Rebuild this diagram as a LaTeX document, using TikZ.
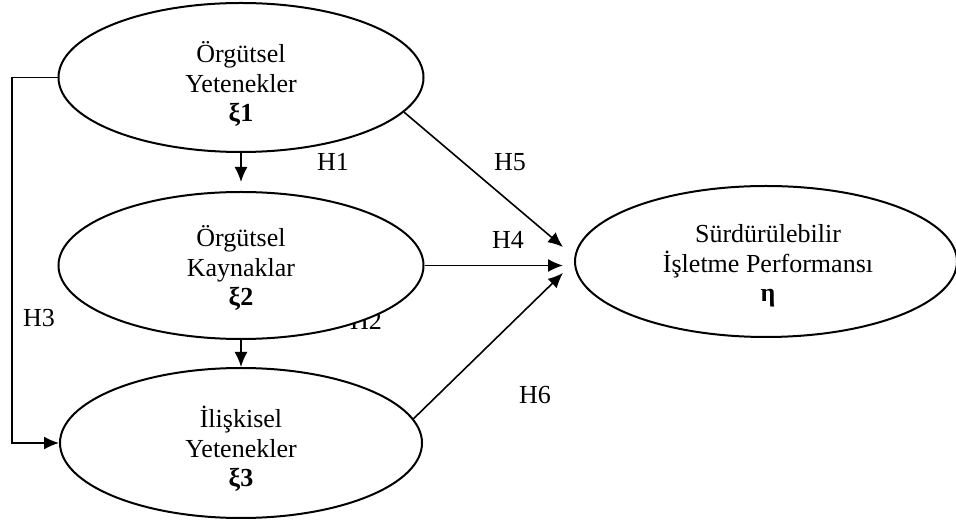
\documentclass[tikz,border=0pt]{standalone}
\usepackage{fontspec}
\setmainfont{Liberation Serif}
\usetikzlibrary{shapes.geometric}
\usetikzlibrary{arrows.meta}

\begin{document}
\begin{tikzpicture}[x=0.5pt, y=-0.5pt, >={Latex[length=7.5pt,width=6.5pt]},
    every node/.style={font=\fontsize{13}{14.8}\selectfont, inner sep=0pt},
    latent/.style={draw, ellipse, line width=1pt, fill=white},
    link/.style={->, line width=0.8pt}]
    \useasboundingbox (0,0) rectangle (956,522);
    % =========================
    % label partly hidden by the second ellipse
    \node (H2) at (366,321) {H2};

    % ========== latent variables
    \node[latent, minimum width=182.5pt, minimum height=74.5pt] (o1) at (241,77.5) {};
    \node[latent, minimum width=182.5pt, minimum height=73.5pt] (o2) at (241,265.5) {};
    \node[latent, minimum width=181pt, minimum height=75pt] (o3) at (241,443) {};
    \node[latent, minimum width=191pt, minimum height=75.5pt] (o4) at (766,261.5) {};

    \node[align=center] (t1) at (241,84) {Örgütsel\\Yetenekler\\\textbf{ξ1}};
    \node[align=center] (t2) at (241,268) {Örgütsel\\Kaynaklar\\\textbf{ξ2}};
    \node[align=center] (t3) at (241,449) {İlişkisel\\Yetenekler\\\textbf{ξ3}};
    \node[align=center] (t4) at (768,266) {Sürdürülebilir\\İşletme Performansı\\\textbf{η}};

    % ========== paths
    \coordinate (bend) at (12,77.5);
    \coordinate (e5) at (563,247);
    \coordinate (e4) at (o2.east -| e5);
    \coordinate (e6) at (563,273);

    \draw[link, shorten >=4.5pt] (o1.south) -- (o2.north);
    \draw[link] (o2.south) -- (o3.north);
    \draw[link] (o1.west) -- (bend) |- (o3.west);
    \draw[link] (o1.-12) -- (e5);
    \draw[link] (o2.east) -- (e4);
    \draw[link] (o3.8) -- (e6);

    % ========== hypotheses
    \foreach \h/\x/\y in {H1/333/162, H3/39/318, H4/508/240, H5/510/162, H6/535/395}
        \node (\h) at (\x,\y) {\h};
\end{tikzpicture}
\end{document}
